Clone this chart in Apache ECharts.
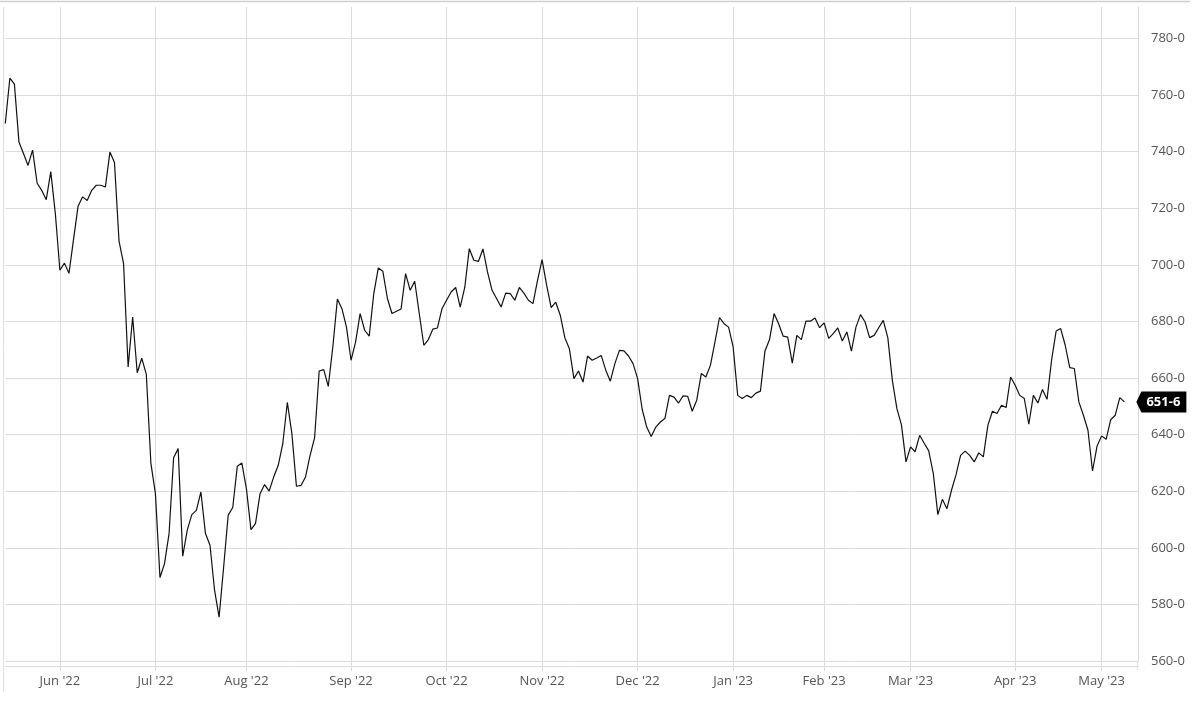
<!DOCTYPE html>
<html>
<head>
<meta charset="utf-8">
<script src="https://cdn.jsdelivr.net/npm/echarts@6/dist/echarts.min.js"></script>
<style>
  html, body { margin: 0; padding: 0; background: #ffffff; }
  #chart { width: 1200px; height: 708px; }
</style>
</head>
<body>
<div id="chart"></div>
<script>
// ---- data ----
const startDate = '2022-05-13';
const holidays = ['2022-05-30','2022-06-20','2022-07-04','2022-09-05','2022-11-24','2022-12-26','2023-01-02','2023-01-16','2023-02-20','2023-04-07'];
const trailingEmptyDays = 3;
const monthNames = ['Jan','Feb','Mar','Apr','May','Jun','Jul','Aug','Sep','Oct','Nov','Dec'];
const prices = [
  749.9, 765.9, 763.8, 743.4, 739.3, 735.1, 740.5, 728.8, 726.3, 723.0,
  732.9, 718.1, 698.1, 700.6, 697.0, 709.0, 720.7, 724.0, 722.7, 726.3,
  728.1, 728.1, 727.5, 739.8, 736.1, 708.4, 700.4, 663.9, 681.6, 661.9,
  667.0, 661.3, 630.0, 619.2, 589.6, 594.5, 605.1, 631.9, 635.1, 597.1,
  606.3, 611.8, 613.3, 619.8, 605.1, 601.0, 585.1, 575.6, 593.3, 611.6,
  614.3, 628.9, 630.0, 621.0, 606.5, 608.6, 619.2, 622.4, 620.1, 625.1,
  629.2, 636.9, 651.4, 640.4, 621.8, 622.1, 625.1, 632.7, 639.0, 662.5,
  663.0, 657.1, 671.0, 687.9, 684.5, 678.0, 666.3, 672.7, 682.8, 676.9,
  674.8, 689.8, 698.9, 697.7, 688.1, 682.8, 683.6, 684.4, 696.9, 691.0,
  694.2, 682.8, 671.6, 673.6, 677.3, 677.7, 684.5, 687.5, 690.4, 692.0,
  685.1, 692.0, 705.7, 701.6, 701.2, 705.6, 697.5, 691.0, 688.1, 685.1,
  690.0, 689.8, 687.5, 692.0, 690.0, 687.5, 686.3, 694.5, 701.8, 692.8,
  684.9, 686.8, 682.2, 674.3, 670.4, 659.8, 662.5, 658.6, 667.8, 666.3,
  667.1, 668.0, 662.8, 658.9, 665.1, 669.8, 669.6, 667.8, 665.1, 659.8,
  649.0, 642.7, 639.4, 642.7, 644.5, 645.7, 653.9, 653.3, 651.2, 653.7,
  653.6, 648.3, 652.2, 661.6, 660.4, 664.5, 672.7, 681.4, 679.2, 678.0,
  671.0, 653.9, 652.8, 653.9, 653.1, 654.7, 655.4, 669.6, 673.6, 682.8,
  679.2, 674.8, 674.5, 665.3, 675.1, 673.6, 680.1, 680.1, 681.2, 677.8,
  679.5, 674.0, 675.7, 677.7, 673.1, 676.3, 669.5, 678.0, 682.4, 679.8,
  674.3, 675.1, 677.8, 680.4, 674.3, 659.2, 649.2, 643.5, 630.4, 635.7,
  634.0, 639.8, 637.0, 634.3, 626.3, 611.8, 617.2, 613.9, 620.4, 625.9,
  632.7, 634.2, 632.7, 630.4, 633.6, 632.2, 643.3, 648.3, 647.5, 650.4,
  649.6, 660.4, 657.5, 653.9, 652.8, 643.7, 653.9, 651.2, 656.0, 652.5,
  666.3, 676.6, 677.5, 671.6, 663.7, 663.4, 651.6, 646.9, 641.6, 627.2,
  636.0, 639.6, 638.4, 645.3, 646.9, 653.1, 651.6
];
const yTicks = { min: 560, step: 20 };

// ---- trading-day categories ----
function buildTradingDays(start, count) {
  const out = [];
  const d = new Date(start + 'T00:00:00Z');
  while (out.length < count) {
    const dow = d.getUTCDay();
    const s = d.toISOString().slice(0, 10);
    if (dow !== 0 && dow !== 6 && holidays.indexOf(s) < 0) out.push(s);
    d.setUTCDate(d.getUTCDate() + 1);
  }
  return out;
}
const days = buildTradingDays(startDate, prices.length + trailingEmptyDays);
const monthStart = days.map((s, i) => i > 0 && s.slice(5, 7) !== days[i - 1].slice(5, 7));
const isMonthStart = (i) => !!monthStart[i];
const fmtMonth = (s) => monthNames[+s.slice(5, 7) - 1] + " '" + s.slice(2, 4);
const fmtPrice = (v) => v.toFixed(1).replace('.', '-');

const gridColor = '#dcdcdc';
const labelColor = '#555';
const font = '"Open Sans", "Noto Sans", sans-serif';
const lastIndex = prices.length - 1;
const lastValue = prices[lastIndex];

const chart = echarts.init(document.getElementById('chart'), null, { renderer: 'canvas' });
chart.setOption({
  animation: false,
  backgroundColor: '#ffffff',
  grid: { left: 5.3, right: 62, top: 7, bottom: 46.7, containLabel: false },
  xAxis: [
    {
      type: 'category',
      data: days,
      boundaryGap: false,
      position: 'bottom',
      offset: 4.7,
      axisLine: { show: true, lineStyle: { color: gridColor, width: 1 } },
      axisTick: { show: true, length: 5, interval: isMonthStart, lineStyle: { color: gridColor } },
      axisLabel: {
        show: true, interval: isMonthStart, margin: 9,
        color: labelColor, fontSize: 13, fontFamily: font,
        formatter: fmtMonth
      },
      splitLine: { show: true, interval: isMonthStart, lineStyle: { color: gridColor, width: 1 } }
    },
    {
      type: 'category',
      data: days,
      boundaryGap: false,
      position: 'bottom',
      offset: 4.7,
      axisLine: { show: false },
      axisTick: { show: true, inside: true, length: 5, interval: isMonthStart, lineStyle: { color: gridColor } },
      axisLabel: { show: false },
      splitLine: { show: false }
    }
  ],
  yAxis: {
    type: 'value',
    position: 'right',
    min: yTicks.min,
    max: 791.04,
    interval: yTicks.step,
    axisLine: { show: true, lineStyle: { color: gridColor, width: 1 } },
    axisTick: { show: false },
    axisLabel: {
      margin: 13, color: labelColor, fontSize: 13, fontFamily: font,
      showMaxLabel: false, formatter: fmtPrice
    },
    splitLine: { show: true, showMaxLine: false, lineStyle: { color: gridColor, width: 1 } }
  },
  series: [{
    type: 'line',
    data: prices,
    xAxisIndex: 0,
    showSymbol: false,
    symbol: 'none',
    lineStyle: { color: '#111', width: 1.2 },
    markPoint: {
      silent: true,
      symbol: 'path://M0,10.5 L5,0 L50,0 L50,21 L5,21 Z',
      symbolSize: [50, 21],
      symbolKeepAspect: false,
      symbolOffset: [37, 0],
      itemStyle: { color: '#000' },
      label: {
        show: true, position: 'inside', offset: [2, 0],
        color: '#fff', fontWeight: 'bold', fontSize: 13, fontFamily: font,
        formatter: () => fmtPrice(lastValue)
      },
      data: [{ coord: [lastIndex, lastValue] }]
    }
  }],
  graphic: [
    { type: 'line', shape: { x1: 0, y1: 1.5, x2: 1190, y2: 1.5 }, style: { stroke: '#cfcfcf', lineWidth: 1.5 }, silent: true },
    { type: 'line', shape: { x1: 3.7, y1: 7, x2: 3.7, y2: 692 }, style: { stroke: gridColor, lineWidth: 1 }, silent: true },
    { type: 'line', shape: { x1: 1137.7, y1: 661, x2: 1137.7, y2: 670 }, style: { stroke: gridColor, lineWidth: 1 }, silent: true }
  ]
});
</script>
</body>
</html>
